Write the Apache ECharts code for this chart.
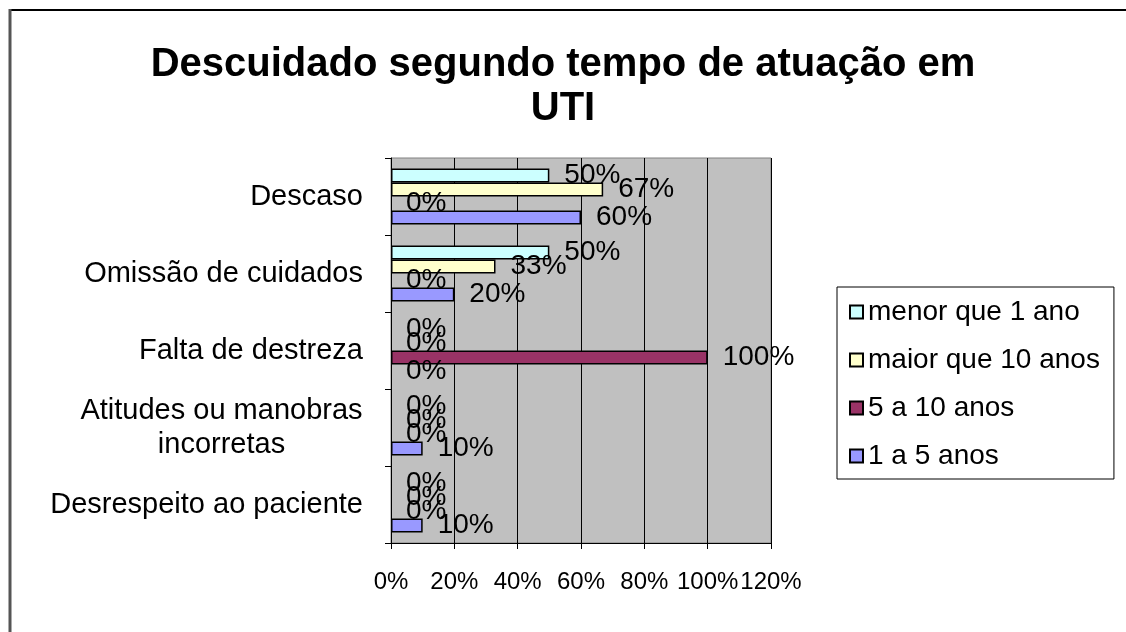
<!DOCTYPE html>
<html>
<head>
<meta charset="utf-8">
<title>Descuidado segundo tempo de atuação em UTI</title>
<script src="https://cdn.jsdelivr.net/npm/echarts@6/dist/echarts.min.js"></script>
<style>
  html, body { margin: 0; padding: 0; background: #fff; }
  #chart { width: 1126px; height: 632px; }
</style>
</head>
<body>
<div id="chart"></div>
<script>
// categorias (de cima para baixo)
const categories = ['Descaso', 'Omissão de cuidados', 'Falta de destreza', 'Atitudes ou manobras\nincorretas', 'Desrespeito ao paciente']
const seriesNames = ['menor que 1 ano', 'maior que 10 anos', '5 a 10 anos', '1 a 5 anos']
const menorQue1 = [0.5, 0.5, 0, 0, 0]
const maiorQue10 = [0.67, 0.33, 0, 0, 0]
const de5a10 = [0, 0, 1, 0, 0]
const de1a5 = [0.6, 0.2, 0, 0.1, 0.1]
const xTicks = [0, 0.2, 0.4, 0.6, 0.8, 1, 1.2]

const FONT = 'Liberation Sans, Arial, sans-serif'
const LABEL_SIZE = 28
const CAT_SIZE = 29
const colors = ['#CCFFFF', '#FFFFCC', '#993366', '#9999FF']
const values = [menorQue1, maiorQue10, de5a10, de1a5]

// largura da linha mais longa, para centralizar rótulos de duas linhas
const ctx = document.createElement('canvas').getContext('2d')
ctx.font = CAT_SIZE + 'px ' + FONT
let multiWidth = 0
categories.forEach(c => {
  if (c.indexOf('\n') >= 0) {
    c.split('\n').forEach(l => {
      multiWidth = Math.max(multiWidth, Math.ceil(ctx.measureText(l).width))
    })
  }
})

const chart = echarts.init(document.getElementById('chart'))

const series = seriesNames.map((name, i) => ({
  name: name,
  type: 'bar',
  // barras de valor zero sem contorno
  data: values[i].map(v => (v === 0 ? { value: v, itemStyle: { borderWidth: 0 } } : v)),
  barWidth: 14,
  barGap: 0,
  barCategoryGap: '27%',
  itemStyle: {
    color: colors[i],
    borderColor: '#000',
    borderWidth: 1.5
  },
  label: {
    show: true,
    position: 'right',
    distance: 15,
    color: '#000',
    fontFamily: FONT,
    fontSize: LABEL_SIZE,
    formatter: p => Math.round(p.value * 100) + '%'
  }
}))

chart.setOption({
  animation: false,
  backgroundColor: '#fff',
  textStyle: { fontFamily: FONT },
  title: {
    text: 'Descuidado segundo tempo de atuação em\nUTI',
    left: 'center',
    top: 38,
    textStyle: {
      fontFamily: FONT,
      fontWeight: 'bold',
      fontSize: 40,
      lineHeight: 44,
      color: '#000'
    }
  },
  legend: {
    orient: 'vertical',
    left: 837,
    top: 287,
    data: seriesNames,
    itemWidth: 13,
    itemHeight: 13,
    itemGap: 20,
    padding: [11, 14, 9, 12],
    borderColor: '#000',
    borderWidth: 1,
    backgroundColor: '#fff',
    icon: 'rect',
    textStyle: {
      fontFamily: FONT,
      fontSize: LABEL_SIZE,
      lineHeight: 28,
      color: '#000'
    }
  },
  grid: {
    left: 391,
    right: 355,
    top: 158,
    bottom: 89,
    show: true,
    backgroundColor: '#C0C0C0',
    borderColor: '#808080',
    borderWidth: 1
  },
  xAxis: {
    type: 'value',
    min: xTicks[0],
    max: xTicks[xTicks.length - 1],
    interval: 0.2,
    axisLine: { show: true, lineStyle: { color: '#000', width: 1 } },
    axisTick: { show: true, length: 6, lineStyle: { color: '#000' } },
    splitLine: { show: true, lineStyle: { color: '#000', width: 1 } },
    axisLabel: {
      color: '#000',
      fontSize: 24,
      margin: 27,
      showMinLabel: true,
      showMaxLabel: true,
      hideOverlap: false,
      formatter: v => Math.round(v * 100) + '%'
    }
  },
  yAxis: {
    type: 'category',
    inverse: true,
    data: categories,
    axisLine: { show: true, lineStyle: { color: '#000', width: 1 } },
    axisTick: { show: true, length: 6, lineStyle: { color: '#000' } },
    axisLabel: {
      color: '#000',
      fontSize: CAT_SIZE,
      margin: 28,
      lineHeight: 34,
      interval: 0,
      formatter: value => {
        if (value.indexOf('\n') < 0) return value
        // linhas centralizadas como no Excel
        return value.split('\n').map(l => '{c|' + l + '}').join('\n')
      },
      rich: {
        c: {
          width: multiWidth,
          align: 'center',
          fontSize: CAT_SIZE,
          lineHeight: 34,
          color: '#000'
        }
      }
    }
  },
  graphic: [
    { type: 'line', shape: { x1: 9, y1: 10, x2: 1126, y2: 10 }, style: { stroke: '#000', lineWidth: 2 } },
    { type: 'line', shape: { x1: 10, y1: 9, x2: 10, y2: 632 }, style: { stroke: '#555', lineWidth: 3 } }
  ],
  series: series
})
</script>
</body>
</html>
